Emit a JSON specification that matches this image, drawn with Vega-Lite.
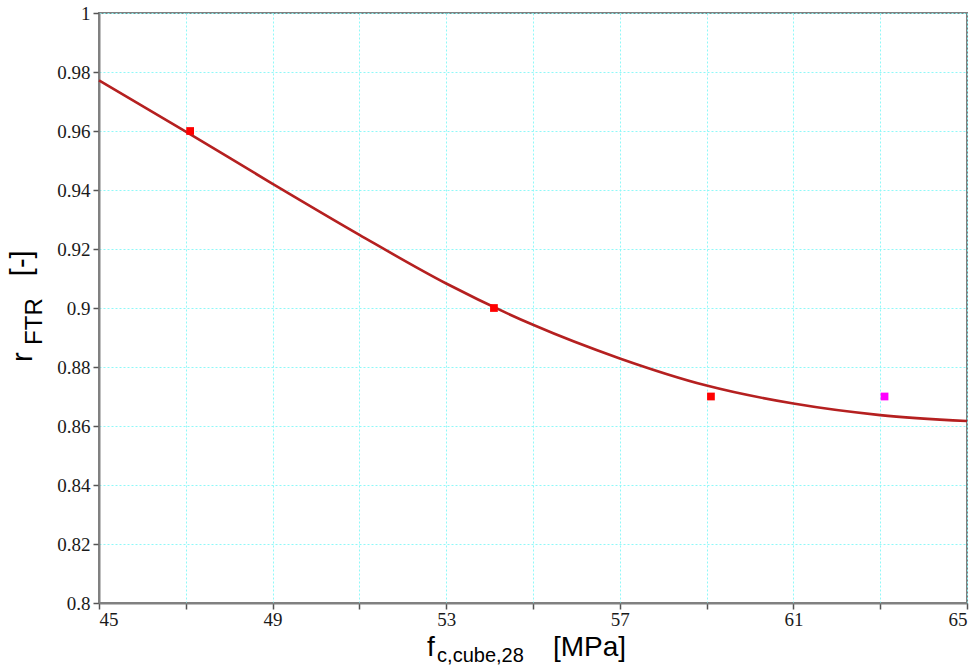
{
  "$schema": "https://vega.github.io/schema/vega-lite/v6.json",
  "autosize": {"type": "none"},
  "width": 868,
  "height": 590,
  "padding": {"left": 99, "top": 13, "right": 12, "bottom": 64},
  "background": "white",
  "config": {
    "view": {"stroke": "#808080", "strokeWidth": 2}
  },
  "datasets": {
    "curve": [
      {"f": 45, "r": 0.9772},
      {"f": 47, "r": 0.9598},
      {"f": 49, "r": 0.9421},
      {"f": 51, "r": 0.9248},
      {"f": 53, "r": 0.9083},
      {"f": 55, "r": 0.8943},
      {"f": 57, "r": 0.8829},
      {"f": 59, "r": 0.8737},
      {"f": 61, "r": 0.8676},
      {"f": 63, "r": 0.8637},
      {"f": 65, "r": 0.8617}
    ],
    "points": [
      {"f": 47.1, "r": 0.96, "group": "a"},
      {"f": 54.1, "r": 0.90, "group": "a"},
      {"f": 59.1, "r": 0.87, "group": "a"},
      {"f": 63.1, "r": 0.87, "group": "b"}
    ],
    "titles": [
      {"t": "f", "kind": "xmain", "px": 52.56, "py": 0.7820},
      {"t": "c,cube,28", "kind": "xsub", "px": 52.79, "py": 0.7800},
      {"t": "[MPa]", "kind": "xmain", "px": 55.46, "py": 0.7820},
      {"t": "r", "kind": "ymain", "px": 43.456, "py": 0.8817},
      {"t": "FTR", "kind": "ysub", "px": 43.687, "py": 0.8875},
      {"t": "[-]", "kind": "ymain", "px": 43.433, "py": 0.9108}
    ]
  },
  "layer": [
    {
      "data": {"name": "curve"},
      "mark": {"type": "line", "color": "#b52020", "strokeWidth": 2.6, "interpolate": "monotone"},
      "encoding": {
        "x": {
          "field": "f", "type": "quantitative",
          "scale": {"domain": [45, 65], "nice": false, "zero": false},
          "axis": {
            "title": null,
            "values": [45, 47, 49, 51, 53, 55, 57, 59, 61, 63, 65],
            "labelExpr": "(datum.value - 45) % 4 == 0 ? datum.label : ''",
            "format": "d",
            "domainColor": "#808080",
            "domainWidth": 2,
            "tickColor": "#555555",
            "tickWidth": 1.5,
            "tickSize": 6,
            "gridColor": "#8ff8f8",
            "gridDash": [2, 2],
            "gridWidth": 1,
            "labelFont": "Liberation Serif",
            "labelFontSize": 19,
            "labelColor": "#1a1a1a",
            "labelPadding": 1
          }
        },
        "y": {
          "field": "r", "type": "quantitative",
          "scale": {"domain": [0.8, 1], "nice": false, "zero": false},
          "axis": {
            "title": null,
            "values": [0.8, 0.82, 0.84, 0.86, 0.88, 0.9, 0.92, 0.94, 0.96, 0.98, 1],
            "format": ".2~f",
            "domainColor": "#808080",
            "domainWidth": 2,
            "tickColor": "#555555",
            "tickWidth": 1.5,
            "tickSize": 6,
            "gridColor": "#8ff8f8",
            "gridDash": [2, 2],
            "gridWidth": 1,
            "labelFont": "Liberation Serif",
            "labelFontSize": 19,
            "labelColor": "#1a1a1a",
            "labelPadding": 3
          }
        }
      }
    },
    {
      "data": {"name": "points"},
      "mark": {"type": "square", "size": 60, "opacity": 1},
      "encoding": {
        "x": {"field": "f", "type": "quantitative"},
        "y": {"field": "r", "type": "quantitative"},
        "color": {
          "field": "group", "type": "nominal",
          "scale": {"domain": ["a", "b"], "range": ["#ff0000", "#ff00ff"]},
          "legend": null
        }
      }
    },
    {
      "data": {"name": "titles"},
      "transform": [{"filter": "datum.kind == 'xmain'"}],
      "mark": {"type": "text", "font": "Liberation Sans", "fontSize": 28, "align": "left", "baseline": "alphabetic", "color": "#000000"},
      "encoding": {
        "x": {"field": "px", "type": "quantitative"},
        "y": {"field": "py", "type": "quantitative"},
        "text": {"field": "t"}
      }
    },
    {
      "data": {"name": "titles"},
      "transform": [{"filter": "datum.kind == 'xsub'"}],
      "mark": {"type": "text", "font": "Liberation Sans", "fontSize": 20, "align": "left", "baseline": "alphabetic", "color": "#000000"},
      "encoding": {
        "x": {"field": "px", "type": "quantitative"},
        "y": {"field": "py", "type": "quantitative"},
        "text": {"field": "t"}
      }
    },
    {
      "data": {"name": "titles"},
      "transform": [{"filter": "datum.kind == 'ymain'"}],
      "mark": {"type": "text", "font": "Liberation Sans", "fontSize": 29, "align": "left", "baseline": "alphabetic", "angle": 270, "color": "#000000"},
      "encoding": {
        "x": {"field": "px", "type": "quantitative"},
        "y": {"field": "py", "type": "quantitative"},
        "text": {"field": "t"}
      }
    },
    {
      "data": {"name": "titles"},
      "transform": [{"filter": "datum.kind == 'ysub'"}],
      "mark": {"type": "text", "font": "Liberation Sans", "fontSize": 24, "align": "left", "baseline": "alphabetic", "angle": 270, "color": "#000000"},
      "encoding": {
        "x": {"field": "px", "type": "quantitative"},
        "y": {"field": "py", "type": "quantitative"},
        "text": {"field": "t"}
      }
    }
  ]
}
